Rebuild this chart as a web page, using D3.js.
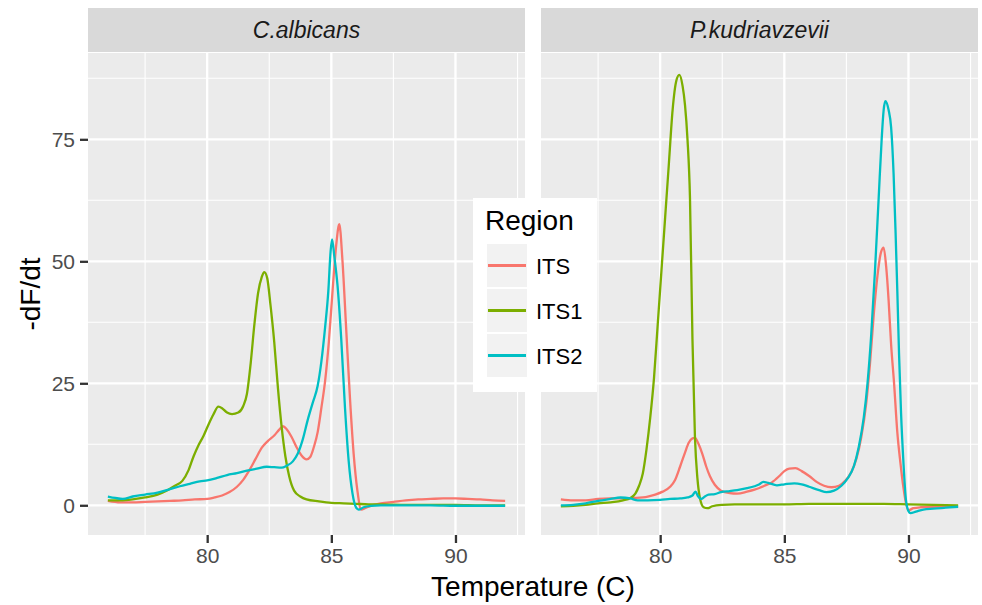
<!DOCTYPE html>
<meta charset="utf-8">
<head>
<script src="https://d3js.org/d3.v7.min.js"></script>
<style>
  body { margin: 0; background: #fff; }
  svg text { font-family: "Liberation Sans", Arial, sans-serif; }
</style>
</head>
<body>
<svg id="chart" width="982" height="605"></svg>
<script>
// facet names, region names and ggplot default hues
var species = ["C.albicans", "P.kudriavzevii"];
var regions = ["ITS", "ITS1", "ITS2"];
var colors = ["#F8766D", "#7CAE00", "#00BFC4"];
var xTicks = [80, 85, 90];
var yTicks = [0, 25, 50, 75];
var xMinor = [77.5, 82.5, 87.5, 92.5];
var yMinor = [12.5, 37.5, 62.5, 87.5];

// [temperature, -dF/dt]
var caITS = [[76.0,0.9],[76.5,0.6],[77.0,0.6],[77.5,0.7],[78.0,0.8],[78.5,0.9],[79.0,1.0],[79.5,1.2],[80.0,1.3],[80.3,1.6],[80.6,2.0],[80.9,2.7],[81.2,3.8],[81.45,5.2],[81.7,7.2],[81.95,9.5],[82.2,11.8],[82.45,13.2],[82.7,14.3],[82.9,15.5],[83.05,16.2],[83.2,15.6],[83.4,14.0],[83.6,11.9],[83.8,10.2],[84.0,9.4],[84.15,9.9],[84.3,12.0],[84.45,15.0],[84.6,20.0],[84.75,25.5],[84.9,33.5],[85.05,44],[85.2,53.5],[85.32,57.6],[85.45,50],[85.6,36],[85.75,22],[85.9,10.5],[86.05,3.0],[86.2,-0.9],[86.4,-0.5],[86.7,0.1],[87.0,0.4],[87.5,0.7],[88.0,1.0],[88.5,1.2],[89.0,1.3],[89.5,1.4],[90.0,1.4],[90.5,1.3],[91.0,1.2],[91.5,1.0],[92.0,0.9]];
var caITS1 = [[76.0,1.0],[76.5,1.0],[77.0,1.2],[77.5,1.6],[78.0,2.2],[78.4,3.1],[78.7,4.0],[79.0,5.0],[79.25,7.2],[79.45,10.0],[79.65,12.3],[79.85,14.2],[80.05,16.5],[80.25,18.6],[80.45,20.2],[80.6,19.9],[80.8,19.0],[81.0,18.7],[81.25,19.0],[81.45,20.3],[81.6,22.8],[81.75,29],[81.9,37],[82.05,43.5],[82.2,46.8],[82.3,47.8],[82.42,46.5],[82.55,41],[82.7,33.5],[82.85,24],[83.0,16],[83.15,10.0],[83.3,6.0],[83.5,3.0],[83.75,1.8],[84.0,1.2],[84.5,0.8],[85.0,0.5],[85.5,0.4],[86.0,0.3],[86.5,0.2],[87.0,0.2],[88.0,0.1],[89.0,0.1],[90.0,0.1],[91.0,0.0],[92.0,0.0]];
var caITS2 = [[76.0,1.8],[76.3,1.5],[76.6,1.3],[77.0,1.8],[77.5,2.2],[78.0,2.6],[78.5,3.3],[78.9,3.9],[79.3,4.4],[79.7,4.9],[80.0,5.1],[80.4,5.6],[80.8,6.2],[81.2,6.6],[81.6,7.1],[82.0,7.5],[82.4,7.9],[82.7,7.8],[83.0,7.7],[83.2,8.1],[83.45,9.0],[83.65,10.6],[83.85,13.5],[84.05,17.5],[84.25,21.0],[84.45,24.5],[84.6,29.5],[84.75,36.5],[84.88,44],[84.97,52],[85.03,54.5],[85.12,51],[85.25,45],[85.4,34],[85.55,20],[85.7,9],[85.85,2.5],[86.0,-0.5],[86.1,-0.9],[86.3,-0.4],[86.6,-0.1],[87.0,0.0],[88.0,0.0],[89.0,0.0],[90.0,-0.1],[91.0,-0.1],[92.0,-0.1]];

var pkITS = [[76.0,1.2],[76.5,1.0],[77.0,1.0],[77.5,1.3],[78.0,1.4],[78.5,1.4],[79.0,1.5],[79.5,1.8],[79.8,2.2],[80.1,2.8],[80.4,3.8],[80.6,5.2],[80.8,7.9],[81.0,10.8],[81.15,12.8],[81.3,13.7],[81.4,13.8],[81.55,12.5],[81.7,10.5],[81.85,8.0],[82.0,6.0],[82.2,4.2],[82.45,3.0],[82.8,2.5],[83.1,2.4],[83.5,2.8],[83.8,3.2],[84.2,4.0],[84.5,4.7],[84.8,6.0],[85.0,7.0],[85.2,7.5],[85.45,7.6],[85.7,7.0],[86.0,6.0],[86.3,4.8],[86.6,4.0],[86.9,3.7],[87.2,4.0],[87.45,5.0],[87.7,6.8],[87.9,9.5],[88.1,14],[88.3,21],[88.45,29],[88.6,39],[88.75,47],[88.9,52],[89.0,52.8],[89.1,49],[89.2,42],[89.3,33],[89.42,25],[89.55,15],[89.68,8.5],[89.8,3.5],[89.9,0.4],[90.0,-1.0],[90.2,-0.6],[90.5,-0.4],[91.0,-0.3],[91.5,-0.2],[92.0,-0.2]];
var pkITS1 = [[76.0,-0.2],[76.5,-0.1],[77.0,0.1],[77.5,0.4],[78.0,0.6],[78.5,1.0],[78.8,1.5],[79.0,2.4],[79.15,4.0],[79.3,6.5],[79.45,11.5],[79.6,18],[79.75,26],[79.9,37],[80.05,48],[80.2,59],[80.35,70],[80.5,81],[80.65,87],[80.77,88.2],[80.9,86],[81.0,82],[81.1,75],[81.2,63],[81.3,34],[81.4,14],[81.5,5.5],[81.6,1.5],[81.75,-0.4],[81.9,-0.6],[82.1,-0.2],[82.5,0.1],[83.0,0.2],[84.0,0.2],[85.0,0.2],[86.0,0.3],[87.0,0.3],[88.0,0.3],[89.0,0.3],[90.0,0.2],[91.0,0.1],[92.0,0.0]];
var pkITS2 = [[76.0,0.0],[76.5,0.1],[77.0,0.4],[77.5,0.9],[78.0,1.3],[78.4,1.6],[78.8,1.4],[79.1,1.0],[79.5,1.0],[80.0,1.1],[80.4,1.3],[80.8,1.4],[81.1,1.6],[81.3,2.0],[81.42,2.8],[81.52,1.9],[81.65,1.3],[81.8,1.8],[81.95,2.2],[82.2,2.3],[82.45,2.7],[82.8,2.9],[83.1,3.1],[83.5,3.5],[83.8,3.9],[84.0,4.3],[84.15,4.8],[84.35,4.6],[84.7,4.1],[85.0,4.3],[85.4,4.5],[85.7,4.3],[86.0,3.8],[86.4,3.1],[86.7,2.7],[87.0,3.0],[87.3,4.0],[87.55,5.5],[87.8,8.0],[88.0,12],[88.2,18],[88.35,25],[88.5,35],[88.65,48],[88.8,63],[88.92,75],[89.0,81],[89.07,82.8],[89.2,81],[89.3,77.5],[89.4,68],[89.48,56],[89.55,44],[89.62,31],[89.7,19],[89.8,8.5],[89.9,1.0],[90.0,-1.2],[90.08,-1.6],[90.3,-1.3],[90.6,-0.9],[91.0,-0.7],[91.5,-0.5],[92.0,-0.3]];

var facetData = [[caITS, caITS1, caITS2], [pkITS, pkITS1, pkITS2]];

var svg = d3.select("#chart");
var panelW = 437, panelTop = 53, panelBottom = 535;
var panelX = [88, 541];
var stripTop = 8;

// shared scales with ggplot's 5% expansion
var all = d3.merge(d3.merge(facetData));
var xExt = d3.extent(all, function(d) { return d[0]; });
var yExt = d3.extent(all, function(d) { return d[1]; });
var xPad = (xExt[1] - xExt[0]) * 0.05, yPad = (yExt[1] - yExt[0]) * 0.05;
var y = d3.scaleLinear().domain([yExt[0] - yPad, yExt[1] + yPad]).range([panelBottom, panelTop]);

species.forEach(function(name, i) {
  var x = d3.scaleLinear().domain([xExt[0] - xPad, xExt[1] + xPad]).range([panelX[i], panelX[i] + panelW]);
  var g = svg.append("g");

  g.append("rect").attr("x", panelX[i]).attr("y", panelTop)
    .attr("width", panelW).attr("height", panelBottom - panelTop).attr("fill", "#EBEBEB");

  // strip
  g.append("rect").attr("x", panelX[i]).attr("y", stripTop)
    .attr("width", panelW).attr("height", panelTop - stripTop - 1).attr("fill", "#D9D9D9");
  g.append("text").attr("x", panelX[i] + panelW / 2).attr("y", 38)
    .attr("text-anchor", "middle").attr("font-size", 23).attr("font-style", "italic")
    .attr("fill", "#1A1A1A").text(name);

  // grid
  g.selectAll(".ymin").data(yMinor).enter().append("line")
    .attr("x1", panelX[i]).attr("x2", panelX[i] + panelW)
    .attr("y1", function(d) { return y(d); }).attr("y2", function(d) { return y(d); })
    .attr("stroke", "#fff").attr("stroke-width", 1.1);
  g.selectAll(".xmin").data(xMinor).enter().append("line")
    .attr("y1", panelTop).attr("y2", panelBottom)
    .attr("x1", function(d) { return x(d); }).attr("x2", function(d) { return x(d); })
    .attr("stroke", "#fff").attr("stroke-width", 1.1);
  g.selectAll(".ymaj").data(yTicks).enter().append("line")
    .attr("x1", panelX[i]).attr("x2", panelX[i] + panelW)
    .attr("y1", function(d) { return y(d); }).attr("y2", function(d) { return y(d); })
    .attr("stroke", "#fff").attr("stroke-width", 2.3);
  g.selectAll(".xmaj").data(xTicks).enter().append("line")
    .attr("y1", panelTop).attr("y2", panelBottom)
    .attr("x1", function(d) { return x(d); }).attr("x2", function(d) { return x(d); })
    .attr("stroke", "#fff").attr("stroke-width", 2.3);

  // curves
  var line = d3.line()
    .x(function(d) { return x(d[0]); })
    .y(function(d) { return y(d[1]); })
    .curve(d3.curveMonotoneX);
  facetData[i].forEach(function(series, k) {
    g.append("path").datum(series).attr("d", line)
      .attr("fill", "none").attr("stroke", colors[k]).attr("stroke-width", 2.3);
  });

  // x axis
  var xAxis = d3.axisBottom(x).tickValues(xTicks).tickSize(8).tickPadding(5);
  var ax = svg.append("g").attr("transform", "translate(0," + panelBottom + ")").call(xAxis);
  ax.select(".domain").remove();
  ax.selectAll(".tick line").attr("stroke", "#333333").attr("stroke-width", 2.3);
  ax.selectAll(".tick text").attr("font-size", 21).attr("fill", "#4D4D4D")
    .attr("font-family", "Liberation Sans, Arial, sans-serif");
});

// y axis on the first panel only
var yAxis = d3.axisLeft(y).tickValues(yTicks).tickSize(8).tickPadding(5);
var ay = svg.append("g").attr("transform", "translate(" + panelX[0] + ",0)").call(yAxis);
ay.select(".domain").remove();
ay.selectAll(".tick line").attr("stroke", "#333333").attr("stroke-width", 2.3);
ay.selectAll(".tick text").attr("font-size", 21).attr("fill", "#4D4D4D")
  .attr("font-family", "Liberation Sans, Arial, sans-serif");

// axis titles
svg.append("text").attr("x", (panelX[0] + panelX[1] + panelW) / 2).attr("y", 596)
  .attr("text-anchor", "middle").attr("font-size", 28).attr("fill", "#000").text("Temperature (C)");
svg.append("text").attr("transform", "translate(40," + (panelTop + panelBottom) / 2 + ") rotate(-90)")
  .attr("text-anchor", "middle").attr("font-size", 28).attr("fill", "#000").text("-dF/dt");

// legend
var lg = svg.append("g").attr("transform", "translate(473,198)");
lg.append("rect").attr("width", 124).attr("height", 194).attr("fill", "#fff");
lg.append("text").attr("x", 12).attr("y", 32).attr("font-size", 28).attr("fill", "#000").text("Region");
var keyH = 45;
regions.forEach(function(r, k) {
  var ky = 45 + k * keyH;
  lg.append("rect").attr("x", 13).attr("y", ky).attr("width", 42).attr("height", keyH)
    .attr("fill", "#F2F2F2").attr("stroke", "#fff").attr("stroke-width", 2);
  lg.append("line").attr("x1", 15).attr("x2", 53).attr("y1", ky + keyH / 2).attr("y2", ky + keyH / 2)
    .attr("stroke", colors[k]).attr("stroke-width", 2.8);
  lg.append("text").attr("x", 63).attr("y", ky + keyH / 2 + 8).attr("font-size", 22)
    .attr("fill", "#000").text(r);
});
</script>
</body>
